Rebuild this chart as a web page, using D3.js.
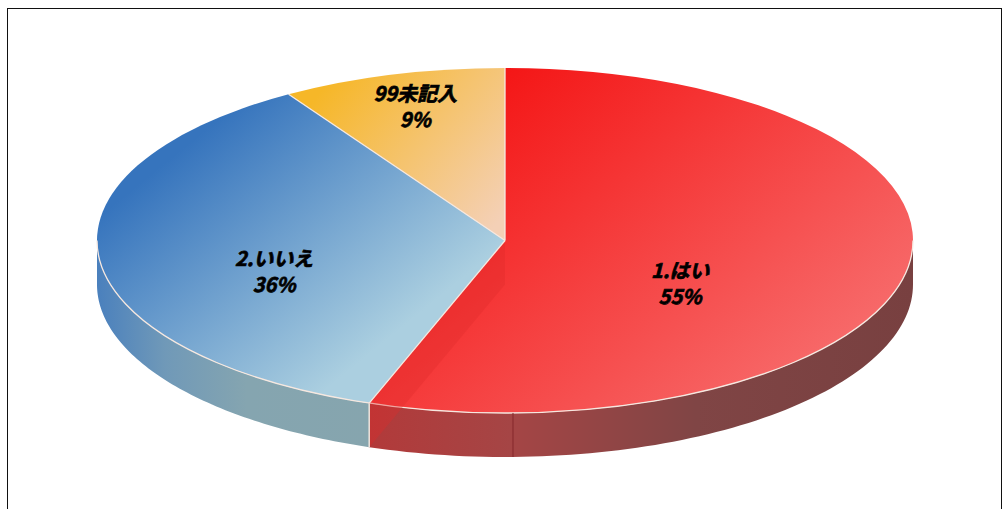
<!DOCTYPE html>
<html><head><meta charset="utf-8">
<script src="https://cdn.jsdelivr.net/npm/d3@7"></script>
<style>html,body{margin:0;padding:0;background:#fff;overflow:hidden}svg{display:block}</style></head>
<body><svg id="c" width="1004" height="509"></svg>
<script>
const categories=["1.はい","2.いいえ","99未記入"];
const values=[55.4,35.7,8.9];
const percentLabels=["55%","36%","9%"];

const topColors=[["#f41616","#f76f6f"],["#3674bd","#abcfe0"],["#f6b728","#f4d0b6"]];
const sideColors=[
 [[0,"#b23a3a"],[.26,"#a54545"],[.6,"#804545"],[1,"#784040"]],
 [[0,"#4a80bd"],[.25,"#7099b8"],[.55,"#85a5b0"],[1,"#86a5ae"]],
 [[0,"#999"],[1,"#999"]]];
const gradEnds=[[505,68,800,420],[230,110,405,325],[330,80,500,220]];
const labelAnchors=[[.429,.25],[-.566,.18],[-.22,-.773]];
const cx=505,cy=240.5,rx=408,ry=172.5,depth=44;

const svg=d3.select("#c");
svg.append("rect").attr("x",7.5).attr("y",8.5).attr("width",994).attr("height",520)
  .attr("fill","#fff").attr("stroke","#111").attr("stroke-width",1);
const defs=svg.append("defs");
const arcs=d3.pie().value(d=>d).sort(null)(values);
const arc=d3.arc().innerRadius(0).outerRadius(rx);
const rim=d3.arc().innerRadius(rx).outerRadius(rx);
const px=a=>cx+rx*Math.sin(a), py=a=>cy-ry*Math.cos(a);
const g=svg.append("g");

// side walls
arcs.forEach((d,i)=>{
  const a0=Math.max(d.startAngle,Math.PI/2), a1=Math.min(d.endAngle,Math.PI*1.5);
  if(a1<=a0) return;
  const id="side"+i;
  const gr=defs.append("linearGradient").attr("id",id).attr("gradientUnits","userSpaceOnUse")
    .attr("x1",Math.min(px(a0),px(a1))).attr("x2",Math.max(px(a0),px(a1))).attr("y1",0).attr("y2",0);
  sideColors[i].forEach(s=>gr.append("stop").attr("offset",s[0]).attr("stop-color",s[1]));
  const as=d3.range(0,81).map(k=>a0+(a1-a0)*k/80);
  const p=d3.path();
  p.moveTo(px(a0),py(a0));
  as.forEach(a=>p.lineTo(px(a),py(a)));
  as.slice().reverse().forEach(a=>p.lineTo(px(a),py(a)+depth));
  p.closePath();
  g.append("path").attr("d",p.toString()).attr("fill","url(#"+id+")");
});

// top faces; gradient ends are in screen space, undone through the face transform
const face=g.append("g").attr("transform",`translate(${cx},${cy}) scale(1,${ry/rx})`);
arcs.forEach((d,i)=>{
  const id="top"+i, e=gradEnds[i];
  const gr=defs.append("linearGradient").attr("id",id).attr("gradientUnits","userSpaceOnUse")
    .attr("gradientTransform",`scale(1,${rx/ry}) translate(${-cx},${-cy})`)
    .attr("x1",e[0]).attr("y1",e[1]).attr("x2",e[2]).attr("y2",e[3]);
  gr.append("stop").attr("offset",0).attr("stop-color",topColors[i][0]);
  gr.append("stop").attr("offset",1).attr("stop-color",topColors[i][1]);
  face.append("path").attr("d",arc(d)).attr("fill","url(#"+id+")");
});

// inner wall of the red slice, seen through the top
const sep=arcs[0].endAngle;
g.append("path")
  .attr("d",d3.line()([[cx,cy],[px(sep),py(sep)],[px(sep),py(sep)+depth],[cx,cy+depth]])+"Z")
  .attr("fill","#e02a2a").attr("opacity",.35);

// seam on the red wall
const seam=Math.PI-0.0196;
g.append("line").attr("x1",px(seam)).attr("x2",px(seam)).attr("y1",py(seam)).attr("y2",py(seam)+depth)
  .attr("stroke","#85282c").attr("stroke-width",1);

// pale edges: radii between slices, and the front rim only
face.append("path").attr("d",rim({startAngle:Math.PI/2,endAngle:Math.PI*1.5})).attr("fill","none")
  .attr("stroke","#f6e8e0").attr("stroke-width",1.3).attr("vector-effect","non-scaling-stroke");
arcs.forEach(d=>{
  g.append("line").attr("x1",cx).attr("y1",cy).attr("x2",px(d.startAngle)).attr("y2",py(d.startAngle))
    .attr("stroke","#f6e8e0").attr("stroke-width",1.3);
});
g.append("line").attr("x1",px(sep)).attr("x2",px(sep)).attr("y1",py(sep)).attr("y2",py(sep)+depth)
  .attr("stroke","#eee3dc").attr("stroke-width",1.5);

// labels
const tg=svg.append("g").attr("font-family","'Noto Sans CJK JP','Noto Sans',sans-serif")
  .attr("font-weight",700).attr("font-style","italic").attr("font-size",20)
  .attr("text-anchor","middle").attr("fill","#000").attr("stroke","#000").attr("stroke-width",.7);
arcs.forEach((d,i)=>{
  const x=cx+rx*labelAnchors[i][0], y=cy+ry*labelAnchors[i][1];
  const t=tg.append("text").attr("x",x).attr("y",y-6);
  t.append("tspan").attr("x",x).text(categories[i]);
  t.append("tspan").attr("x",x).attr("dy",26).text(percentLabels[i]);
});
</script></body></html>
